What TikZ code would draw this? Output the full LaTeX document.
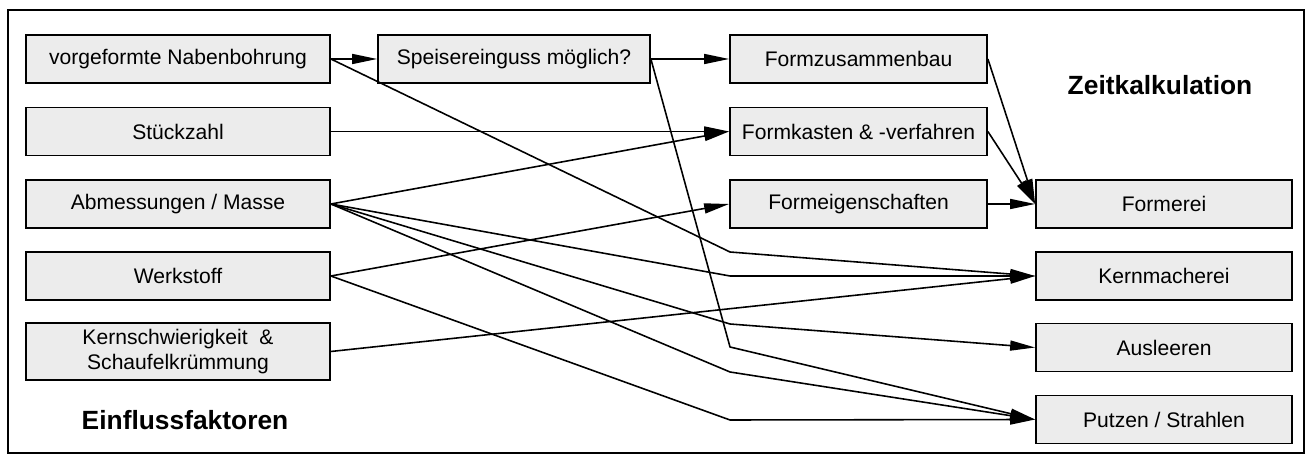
\documentclass[tikz,border=0pt]{standalone}
\usepackage{fontspec}
\setmainfont{Liberation Sans}
\usetikzlibrary{arrows.meta}

\tikzset{
	box/.style={draw, line width=1pt, fill=gray!15, minimum width=#1, minimum height=0.96cm,
		inner sep=1pt, align=center, font=\fontsize{12}{14}\selectfont},
	pfeil/.style={line width=0.9pt, -{Triangle[length=0.5cm,width=0.2cm]}},
	titel/.style={font=\bfseries\fontsize{15}{18}\selectfont}
}

\begin{document}
\begin{tikzpicture}
		\useasboundingbox (0,0) rectangle (26.22,9.22);
		
		% Frame
		\draw[line width=1pt] (0.16,0.16) rectangle (26.08,9.02);
		
		% Einflussfaktoren
		\node[box=6.08cm] (naben) at (3.56,8.04) {vorgeformte Nabenbohrung};
		\node[box=6.08cm] (stueck) at (3.56,6.59) {Stückzahl};
		\node[box=6.08cm] (abmess) at (3.56,5.14) {Abmessungen / Masse};
		\node[box=6.08cm] (werk) at (3.56,3.70) {Werkstoff};
		\node[box=6.08cm, minimum height=1.14cm] (kern) at (3.56,2.19) {Kernschwierigkeit \ \&\\Schaufelkrümmung};
		
		% Zwischenstufen
		\node[box=5.44cm] (speise) at (10.28,8.04) {Speisereinguss möglich?};
		\node[box=5.14cm] (formzus) at (17.17,8.04) {Formzusammenbau};
		\node[box=5.14cm] (formkast) at (17.17,6.59) {Formkasten \& -verfahren};
		\node[box=5.14cm] (formeig) at (17.17,5.14) {Formeigenschaften};
		
		% Zeitkalkulation
		\node[box=5.12cm] (formerei) at (23.28,5.14) {Formerei};
		\node[box=5.12cm] (kernm) at (23.28,3.70) {Kernmacherei};
		\node[box=5.12cm] (ausl) at (23.28,2.27) {Ausleeren};
		\node[box=5.12cm] (putzen) at (23.28,0.83) {Putzen / Strahlen};
		
		% Titles
		\node[titel] (zeit) at (23.2,7.52) {Zeitkalkulation};
		\node[titel] (einfl) at (3.7,0.82) {Einflussfaktoren};
		
		% Knicke
		\coordinate (k1) at (14.6,4.18);
		\coordinate (k2) at (14.6,3.70);
		\coordinate (a1) at (14.6,2.74);
		\coordinate (p1) at (14.6,2.28);
		\coordinate (p2) at (14.6,1.78);
		\coordinate (p3) at (14.6,0.82);
		
		% Arrows
		\draw[pfeil] (naben) -- (speise);
		\draw[pfeil] (speise) -- (formzus);
		\draw[pfeil] (stueck) -- (formkast);
		\draw[pfeil] (abmess.east) -- (formkast.west);
		\draw[pfeil] (werk.east) -- (formeig.west);
		\draw[pfeil] (formzus.east) -- (formerei.west);
		\draw[pfeil] (formkast.east) -- (formerei.west);
		\draw[pfeil] (formeig) -- (formerei);
		\draw[pfeil] (naben.east) -- (k1) -- (kernm.west);
		\draw[pfeil] (abmess.east) -- (k2) -- (kernm.west);
		\draw[pfeil] (kern.east) -- (kernm.west);
		\draw[pfeil] (abmess.east) -- (a1) -- (ausl.west);
		\draw[pfeil] (speise.east) -- (p1) -- (putzen.west);
		\draw[pfeil] (abmess.east) -- (p2) -- (putzen.west);
		\draw[pfeil] (werk.east) -- (p3) -- (putzen.west);
	\end{tikzpicture}
\end{document}
